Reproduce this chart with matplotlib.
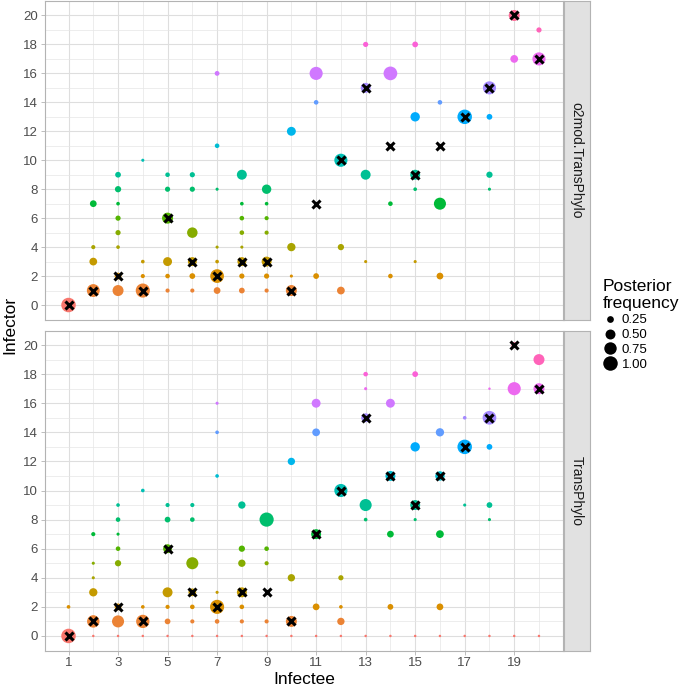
import numpy as np
import matplotlib.pyplot as plt
from matplotlib.lines import Line2D

plt.rcParams['font.family'] = ['Liberation Sans', 'DejaVu Sans']

# o2mod.TransPhylo posterior (infectee, infector, frequency)
o2_infectee = [1,
               2, 2, 2, 2,
               3, 3, 3, 3, 3, 3, 3, 3,
               4, 4, 4, 4,
               5, 5, 5, 5, 5, 5,
               6, 6, 6, 6, 6, 6,
               7, 7, 7, 7, 7, 7, 7,
               8, 8, 8, 8, 8, 8, 8, 8,
               9, 9, 9, 9, 9, 9, 9,
               10, 10, 10, 10,
               11, 11, 11,
               12, 12, 12,
               13, 13, 13, 13,
               14, 14, 14,
               15, 15, 15, 15, 15,
               16, 16, 16,
               17,
               18, 18, 18, 18,
               19, 19,
               20, 20]
o2_infector = [0,
               1, 3, 4, 7,
               1, 2, 4, 5, 6, 7, 8, 9,
               1, 2, 3, 10,
               1, 2, 3, 6, 8, 9,
               1, 2, 3, 5, 8, 9,
               1, 2, 3, 4, 8, 11, 16,
               1, 2, 3, 4, 5, 6, 7, 9,
               1, 2, 3, 5, 6, 7, 8,
               1, 2, 4, 12,
               2, 14, 16,
               1, 4, 10,
               3, 9, 15, 18,
               2, 7, 16,
               3, 8, 9, 13, 18,
               2, 7, 14,
               13,
               8, 9, 13, 15,
               17, 20,
               17, 19]
o2_freq = [1.0,
           0.8, 0.32, 0.11, 0.25,
           0.6, 0.25, 0.09, 0.16, 0.16, 0.09, 0.22, 0.19,
           0.95, 0.11, 0.09, 0.07,
           0.11, 0.13, 0.41, 0.6, 0.16, 0.13,
           0.11, 0.19, 0.41, 0.55, 0.16, 0.16,
           0.25, 0.9, 0.09, 0.07, 0.07, 0.13, 0.14,
           0.19, 0.16, 0.41, 0.07, 0.13, 0.13, 0.09, 0.5,
           0.11, 0.16, 0.5, 0.11, 0.11, 0.09, 0.45,
           0.6, 0.07, 0.36, 0.41,
           0.19, 0.13, 0.83,
           0.32, 0.22, 0.83,
           0.07, 0.5, 0.5, 0.16,
           0.13, 0.13, 0.9,
           0.07, 0.09, 0.5, 0.45, 0.19,
           0.25, 0.71, 0.13,
           1.0,
           0.07, 0.22, 0.19, 0.83,
           0.32, 0.6,
           0.83, 0.16]

# TransPhylo posterior
tp_infectee = [1, 1,
               2, 2, 2, 2, 2, 2,
               3, 3, 3, 3, 3, 3, 3, 3,
               4, 4, 4, 4,
               5, 5, 5, 5, 5, 5, 5,
               6, 6, 6, 6, 6, 6, 6,
               7, 7, 7, 7, 7, 7, 7,
               8, 8, 8, 8, 8, 8, 8,
               9, 9, 9, 9, 9,
               10, 10, 10, 10,
               11, 11, 11, 11, 11,
               12, 12, 12, 12, 12,
               13, 13, 13, 13, 13, 13,
               14, 14, 14, 14, 14,
               15, 15, 15, 15, 15,
               16, 16, 16, 16, 16,
               17, 17, 17, 17,
               18, 18, 18, 18, 18, 18,
               19, 19, 19,
               20, 20, 20]
tp_infector = [0, 2,
               0, 1, 3, 4, 5, 7,
               0, 1, 2, 5, 6, 7, 8, 9,
               0, 1, 2, 10,
               0, 1, 2, 3, 6, 8, 9,
               0, 1, 2, 3, 5, 8, 9,
               0, 1, 2, 3, 11, 14, 16,
               0, 1, 2, 3, 5, 6, 9,
               0, 1, 5, 6, 8,
               0, 1, 4, 12,
               0, 2, 7, 14, 16,
               0, 1, 2, 4, 10,
               0, 8, 9, 15, 17, 18,
               0, 2, 7, 11, 16,
               0, 8, 9, 13, 18,
               0, 2, 7, 11, 14,
               0, 9, 13, 15,
               0, 8, 9, 13, 15, 17,
               0, 17, 20,
               0, 17, 19]
tp_freq = [1.0, 0.09,
           0.05, 0.75, 0.36, 0.07, 0.07, 0.11,
           0.05, 0.71, 0.25, 0.22, 0.13, 0.07, 0.13, 0.09,
           0.05, 0.85, 0.09, 0.09,
           0.05, 0.19, 0.11, 0.5, 0.41, 0.19, 0.11,
           0.05, 0.11, 0.13, 0.32, 0.71, 0.13, 0.11,
           0.05, 0.13, 0.95, 0.07, 0.09, 0.09, 0.07,
           0.05, 0.11, 0.13, 0.5, 0.29, 0.22, 0.29,
           0.05, 0.11, 0.11, 0.13, 0.96,
           0.05, 0.6, 0.29, 0.29,
           0.05, 0.25, 0.5, 0.32, 0.41,
           0.05, 0.29, 0.09, 0.16, 0.83,
           0.05, 0.09, 0.71, 0.41, 0.07, 0.13,
           0.05, 0.19, 0.25, 0.5, 0.41,
           0.05, 0.07, 0.5, 0.45, 0.19,
           0.05, 0.25, 0.32, 0.45, 0.36,
           0.05, 0.07, 1.0, 0.09,
           0.05, 0.07, 0.19, 0.19, 0.9, 0.05,
           0.05, 0.83, 0.19,
           0.05, 0.6, 0.6]

# true transmission tree
true_infectee = list(range(1, 21))
true_infector = [0, 1, 2, 1, 6, 3, 2, 3, 3, 1, 7, 10, 15, 11, 9, 11, 13, 15, 20, 17]

legend_vals = [0.25, 0.50, 0.75, 1.00]
facets = ['o2mod.TransPhylo', 'TransPhylo']


def hue_pal(n, l=65, c=100):
    """ggplot2 default hue palette (hcl -> sRGB)"""
    hues = np.linspace(15, 375, n + 1)[:n]
    Xn, Yn, Zn = 95.047, 100.0, 108.883
    un = 4 * Xn / (Xn + 15 * Yn + 3 * Zn)
    vn = 9 * Yn / (Xn + 15 * Yn + 3 * Zn)
    M = np.array([[3.240479, -1.537150, -0.498535],
                  [-0.969256, 1.875992, 0.041556],
                  [0.055648, -0.204043, 1.057311]])
    cols = []
    for h in hues:
        u = c * np.cos(np.radians(h))
        v = c * np.sin(np.radians(h))
        Y = Yn * ((l + 16) / 116) ** 3
        up = u / (13 * l) + un
        vp = v / (13 * l) + vn
        X = 9.0 * Y * up / (4 * vp)
        Z = -X / 3 - 5 * Y + 3 * Y / vp
        rgb = M @ (np.array([X, Y, Z]) / 100)
        rgb = np.where(rgb <= 0.0031308, 12.92 * rgb, 1.055 * np.abs(rgb) ** (1 / 2.4) - 0.055)
        cols.append(tuple(np.clip(rgb, 0, 1)))
    return cols


def size_px(freq):
    return np.maximum(2.3, -1.0 + 15.5 * np.sqrt(np.asarray(freq)))


pal = hue_pal(21)
W, H = 685, 690
fig = plt.figure(figsize=(W / 100, H / 100), dpi=100)


def px_axes(x0, y0, x1, y1):
    return fig.add_axes([x0 / W, 1 - y1 / H, (x1 - x0) / W, (y1 - y0) / H])


panels = [(o2_infectee, o2_infector, o2_freq, 1, 319.5),
          (tp_infectee, tp_infector, tp_freq, 330.5, 650.5)]

for k, (xs, ys, fs, top, bottom) in enumerate(panels):
    ax = px_axes(45, top, 562.5, bottom)
    cols = [pal[j] for j in ys]
    s = (size_px(fs) * 0.72) ** 2
    ax.scatter(xs, ys, s=s, c=cols, linewidths=0, zorder=2)
    ax.plot(true_infectee, true_infector, ls='', marker='x', color='black',
            markersize=5.5, mew=2.2, zorder=3)

    ax.set_xlim(0.05, 20.95)
    ax.set_ylim(-1, 21)
    ax.set_xticks(range(1, 20, 2))
    ax.set_xticks(range(2, 21, 2), minor=True)
    ax.set_yticks(range(0, 21, 2))
    ax.set_yticks(range(1, 21, 2), minor=True)
    ax.grid(which='major', color='#DEDEDE', lw=0.8)
    ax.grid(which='minor', color='#E6E6E6', lw=0.5)
    ax.set_axisbelow(True)
    ax.tick_params(which='minor', length=0)
    ax.tick_params(which='major', length=3, width=0.6, color='#B3B3B3',
                   labelcolor='#4D4D4D', labelsize=9.5, pad=2)
    for sp in ax.spines.values():
        sp.set_color('#B3B3B3')
        sp.set_linewidth(0.8)
    if k == 0:
        ax.tick_params(axis='x', which='both', length=0, labelbottom=False)

    strip = px_axes(563.5, top, 590, bottom)
    strip.set_facecolor('#E1E1E1')
    strip.set_xticks([])
    strip.set_yticks([])
    for sp in strip.spines.values():
        sp.set_color('#B3B3B3')
        sp.set_linewidth(0.8)
    strip.text(0.5, 0.5, facets[k], rotation=-90, ha='center', va='center',
               fontsize=10, color='#1A1A1A', transform=strip.transAxes)

fig.text(304 / W, 1 - 680 / H, 'Infectee', ha='center', va='center', fontsize=12.5)
fig.text(10 / W, 1 - 325 / H, 'Infector', ha='center', va='center',
         rotation=90, fontsize=12.5)

handles = [Line2D([], [], ls='', marker='o', color='black', mew=0,
                  markersize=size_px(v) * 0.72) for v in legend_vals]
leg = fig.legend(handles, [f'{v:.2f}' for v in legend_vals],
                 title='Posterior\nfrequency', loc='center left',
                 bbox_to_anchor=(603 / W, 1 - 325 / H), frameon=False,
                 alignment='left', fontsize=9.5, title_fontsize=12.5,
                 labelspacing=0.2, handletextpad=0.4, handlelength=1.0,
                 borderpad=0, borderaxespad=0)
leg.get_title().set_multialignment('left')

fig.savefig('out.png', dpi=100)
